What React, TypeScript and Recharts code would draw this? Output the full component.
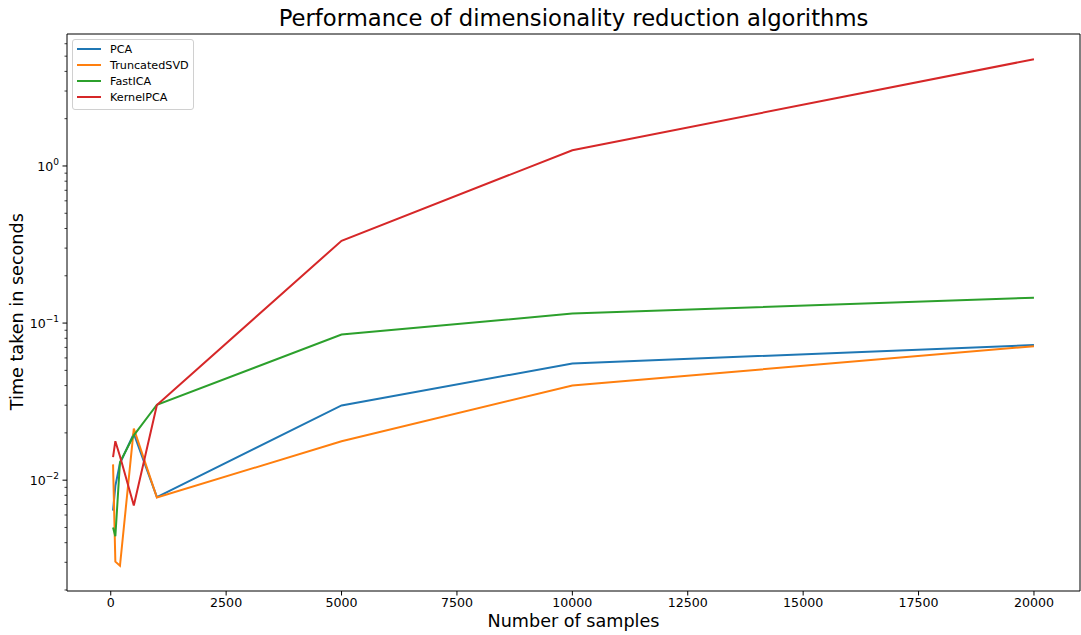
import React from 'react';
import { LineChart, Line, XAxis, YAxis, ReferenceLine } from 'recharts';

// benchmark timings (seconds) per sample count
const samples = [50, 100, 200, 500, 1000, 5000, 10000, 20000];
const pcaTimes = [0.0064, 0.0092, 0.0128, 0.0198, 0.0078, 0.0299, 0.0553, 0.0725];
const svdTimes = [0.0126, 0.00303, 0.00285, 0.0213, 0.00775, 0.0177, 0.0401, 0.0712];
const icaTimes = [0.005, 0.0044, 0.013, 0.0193, 0.0302, 0.0845, 0.115, 0.145];
const kpcaTimes = [0.014, 0.0177, 0.0142, 0.0069, 0.0301, 0.334, 1.26, 4.78];

const xTicks = [0, 2500, 5000, 7500, 10000, 12500, 15000, 17500, 20000];
const yMajorTicks = [0.01, 0.1, 1];
const yMinorTicks = [
  0.002, 0.003, 0.004, 0.005, 0.006, 0.007, 0.008, 0.009,
  0.02, 0.03, 0.04, 0.05, 0.06, 0.07, 0.08, 0.09,
  0.2, 0.3, 0.4, 0.5, 0.6, 0.7, 0.8, 0.9,
  2, 3, 4, 5, 6,
];

const X_DOMAIN = [-947.5, 20997.5];
const Y_DOMAIN = [0.00197, 6.92];

const series = [
  { key: 'pca', name: 'PCA', color: '#1f77b4', values: pcaTimes },
  { key: 'svd', name: 'TruncatedSVD', color: '#ff7f0e', values: svdTimes },
  { key: 'ica', name: 'FastICA', color: '#2ca02c', values: icaTimes },
  { key: 'kpca', name: 'KernelPCA', color: '#d62728', values: kpcaTimes },
];

const data = samples.map((n, i) => {
  const row: any = { n };
  series.forEach((s) => { row[s.key] = s.values[i]; });
  return row;
});

const FONT = '"DejaVu Sans", sans-serif';

function LogTick({ x, y, payload }: any) {
  const v = payload.value;
  const major = yMajorTicks.some((m) => Math.abs(m - v) / m < 1e-6);
  const exp = Math.round(Math.log10(v));
  return (
    <g>
      <line x1={x} x2={x - (major ? 4.5 : 2.5)} y1={y} y2={y} stroke="#000" strokeWidth={major ? 1 : 0.75} />
      {major && (
        <text x={x - 8} y={y} dy={5} textAnchor="end" fontSize={12.6} fill="#000" fontFamily={FONT}>
          10
          <tspan dy={-6} fontSize={9}>{exp < 0 ? '\u2212' + -exp : String(exp)}</tspan>
        </text>
      )}
    </g>
  );
}

function LegendBox() {
  return (
    <div style={{
      position: 'absolute', left: 72, top: 39, width: 122, height: 71,
      border: '1px solid #d0d0d0', borderRadius: 3, background: 'rgba(255,255,255,0.8)',
      boxSizing: 'border-box', fontFamily: FONT, fontSize: 11.2,
    }}>
      {series.map((s, i) => (
        <div key={s.key} style={{ position: 'absolute', left: 0, top: 9 + i * 16 - 7, height: 14, display: 'flex', alignItems: 'center' }}>
          <div style={{ marginLeft: 4, width: 24, height: 2, background: s.color }} />
          <span style={{ marginLeft: 9, color: '#000', whiteSpace: 'nowrap' }}>{s.name}</span>
        </div>
      ))}
    </div>
  );
}

export default function App() {
  return (
    <div style={{ position: 'absolute', left: 0, top: 0, width: 1081, height: 635, background: '#fff', fontFamily: FONT }}>
      <LineChart width={1081} height={635} data={data} margin={{ top: 34, right: 1, left: 0, bottom: 0 }}>
        <XAxis
          dataKey="n"
          type="number"
          domain={X_DOMAIN}
          allowDataOverflow
          ticks={xTicks}
          interval={0}
          height={44}
          tickSize={4.5}
          tickMargin={3}
          stroke="#000"
          tick={{ fill: '#000', fontSize: 12.6, fontFamily: FONT }}
        />
        <YAxis
          type="number"
          scale="log"
          domain={Y_DOMAIN}
          allowDataOverflow
          ticks={[...yMinorTicks, ...yMajorTicks].sort((a, b) => a - b)}
          interval={0}
          width={67}
          tickSize={0}
          tickMargin={0}
          tickLine={false}
          stroke="#000"
          tick={<LogTick />}
        />
        <ReferenceLine x={X_DOMAIN[1]} stroke="#000" strokeWidth={1} />
        <ReferenceLine y={Y_DOMAIN[1]} stroke="#000" strokeWidth={1} />
        {series.map((s) => (
          <Line
            key={s.key}
            dataKey={s.key}
            name={s.name}
            stroke={s.color}
            strokeWidth={2}
            dot={false}
            type="linear"
            isAnimationActive={false}
          />
        ))}
      </LineChart>

      <div style={{ position: 'absolute', left: 67, width: 1013, top: 6, textAlign: 'center', fontSize: 22.7, color: '#000', lineHeight: 1.1 }}>
        Performance of dimensionality reduction algorithms
      </div>
      <div style={{ position: 'absolute', left: 67, width: 1013, top: 612, textAlign: 'center', fontSize: 17.6, color: '#000', lineHeight: 1.1 }}>
        Number of samples
      </div>
      <div style={{
        position: 'absolute', left: 18, top: 312, width: 300, marginLeft: -150, marginTop: -10,
        textAlign: 'center', fontSize: 17.6, color: '#000', lineHeight: 1.1, transform: 'rotate(-90deg)',
      }}>
        Time taken in seconds
      </div>
      <LegendBox />
    </div>
  );
}
